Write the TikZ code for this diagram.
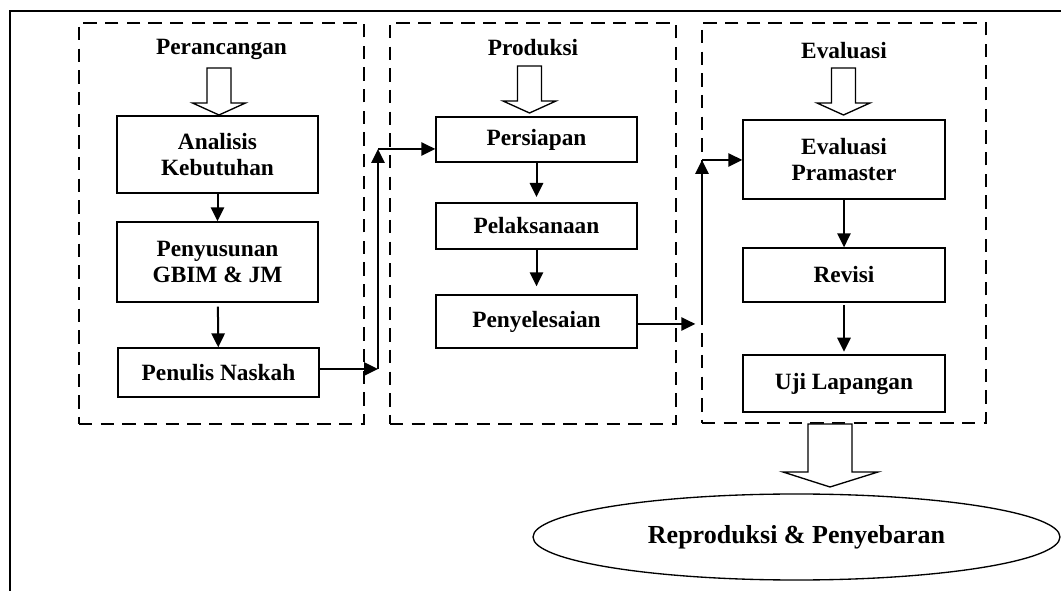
\documentclass[tikz,border=0pt]{standalone}
\usepackage{fontspec}
\setmainfont{Liberation Serif}
\usetikzlibrary{arrows.meta,shapes.geometric,calc}
\tikzset{
  box/.style={draw,line width=1pt,minimum width=150.75pt,inner sep=2pt,align=center,
    font=\fontsize{17.5}{19.5}\selectfont\bfseries},
  group/.style={draw,line width=1pt,dash pattern=on 10pt off 6.25pt,inner sep=0pt},
  ttl/.style={font=\fontsize{17.5}{19.5}\selectfont\bfseries,inner sep=0pt},
  arr/.style={line width=1.5pt,-{Triangle[length=10.5pt,width=10pt]}},
  hollowarr/.pic={\draw[line width=1pt,fill=white,line join=miter]
    (-12,0) -- (12,0) -- (12,35) -- (26.5,35) -- (0,47) -- (-26.5,35) -- (-12,35) -- cycle;}
}
\begin{document}
\begin{tikzpicture}[x=0.75pt,y=-0.75pt]
\useasboundingbox (0,0) rectangle (1061,591);
% outer frame
\draw[line width=1.6pt] (10,591) -- (10,11) -- (1061,11);
% groups
\node[group,minimum width=213.75pt,minimum height=300.75pt] (g1) at (221.5,223.5) {};
\node[group,minimum width=214.5pt,minimum height=300.75pt] (g2) at (533,223.5) {};
\node[group,minimum width=213pt,minimum height=300pt] (g3) at (844,223) {};
% titles
\node[ttl] (t1) at (221.5,49) {Perancangan};
\node[ttl] (t2) at (533,48) {Produksi};
\node[ttl] (t3) at (844,51) {Evaluasi};
% hollow arrows
\pic at (219,68) {hollowarr};
\pic at (529.5,66) {hollowarr};
\pic at (843.5,68) {hollowarr};
% column 1
\node[box,minimum height=57.75pt] (ak) at (217.5,154.5) {Analisis\\Kebutuhan};
\node[box,minimum height=60pt] (pg) at (217.5,262) {Penyusunan\\GBIM \& JM};
\node[box,minimum height=36.75pt] (pn) at (218.5,372.5) {Penulis Naskah};
% column 2
\node[box,minimum height=33.75pt] (ps) at (536.5,139.5) {Persiapan};
\node[box,minimum height=34.5pt] (pl) at (536.5,226) {Pelaksanaan};
\node[box,minimum height=39.75pt] (py) at (536.5,321.5) {Penyelesaian};
% column 3
\node[box,minimum width=151.5pt,minimum height=59.25pt] (ep) at (844,159.5) {Evaluasi\\Pramaster};
\node[box,minimum width=151.5pt,minimum height=40.5pt] (rv) at (844,275) {Revisi};
\node[box,minimum width=151.5pt,minimum height=42.75pt] (ul) at (844,383.5) {Uji Lapangan};
% vertical arrows
\draw[arr] (ak) -- (pg);
\draw[arr,shorten <=3pt] (pg) -- (pn);
\draw[arr,shorten >=4pt] (ps) -- (pl);
\draw[arr,shorten >=6pt] (pl) -- (py);
\draw[arr] (ep) -- (rv);
\draw[arr,shorten <=2pt,shorten >=2pt] (rv) -- (ul);
% connector 1
\coordinate (a1) at (378,369);
\coordinate (a2) at (378,149);
\draw[arr] (pn.east |- a1) -- (a1);
\draw[arr] (a1) -- (a2);
\draw[arr] (a2) -- (ps.west |- a2);
% connector 2
\coordinate (b1) at (702,324);
\coordinate (b2) at (702,160);
\draw[arr,shorten >=5pt] (py.east |- b1) -- (b1);
\draw[arr] (b1) -- (b2);
\draw[arr] (b2) -- (ep.west |- b2);
% bottom hollow arrow
\draw[line width=1pt,fill=white,line join=miter] (808,424) -- (852,424) -- (852,472) -- (878,472) -- (830,487) -- (783,472) -- (808,472) -- cycle;
% ellipse
\node[draw,ellipse,line width=1pt,inner sep=0pt,minimum width=395.25pt,minimum height=64.5pt,
  font=\fontsize{19.5}{22}\selectfont\bfseries] (rep) at (796.5,537) {Reproduksi \& Penyebaran};
\end{tikzpicture}
\end{document}
